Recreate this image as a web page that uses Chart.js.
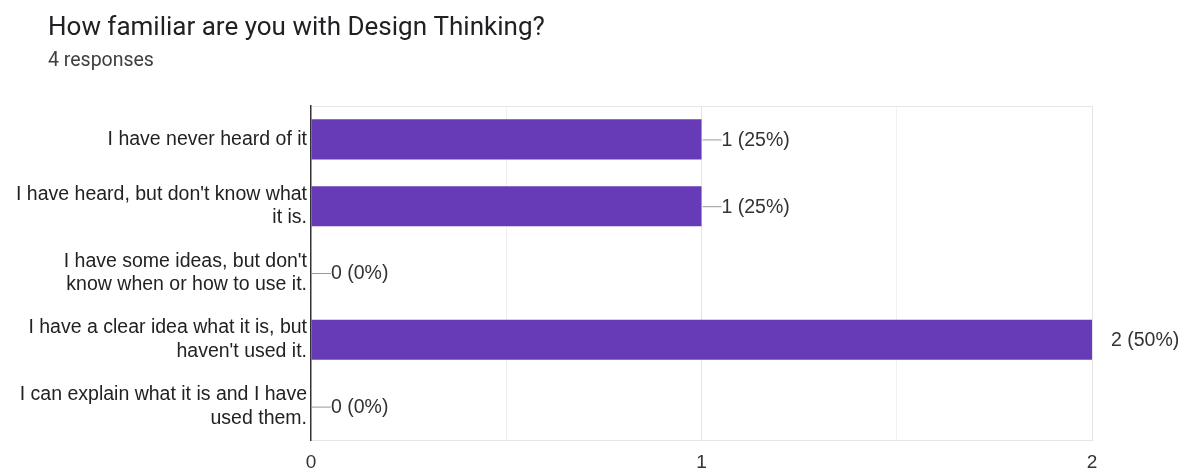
<!DOCTYPE html>
<html>
<head>
<meta charset="utf-8">
<script src="https://cdn.jsdelivr.net/npm/chart.js@4/dist/chart.umd.min.js"></script>
<style>
  html, body { margin: 0; padding: 0; background: #fff; }
  #wrap { width: 1184px; height: 470px; position: relative; }
</style>
</head>
<body>
<div id="wrap"><canvas id="chart"></canvas></div>
<script>
const questionTitle = 'How familiar are you with Design Thinking?'
const responsesText = '4 responses'

const answers = [
  'I have never heard of it',
  ['I have heard, but don\'t know what', 'it is.'],
  ['I have some ideas, but don\'t', 'know when or how to use it.'],
  ['I have a clear idea what it is, but', 'haven\'t used it.'],
  ['I can explain what it is and I have', 'used them.'],
]
const counts = [1, 1, 0, 2, 0]
const percents = [25, 25, 0, 50, 0]
const xTickLabels = [0, 1, 2]

const labelFont = '"Liberation Sans", Arial, sans-serif'

// heading drawn at the same left offset as the google forms card
const heading = {
  id: 'heading',
  beforeDraw(chart) {
    const ctx = chart.ctx
    ctx.save()
    ctx.textAlign = 'left'
    ctx.textBaseline = 'middle'
    ctx.fillStyle = '#202124'
    ctx.font = '26px Roboto, sans-serif'
    ctx.fillText(questionTitle, 48, 28)
    ctx.fillStyle = '#3c4043'
    ctx.font = '19.5px Roboto, sans-serif'
    ctx.fillText(responsesText, 48, 61)
    ctx.restore()
  },
}

// "n (p%)" labels with the little leader line
const valueLabels = {
  id: 'valueLabels',
  afterDatasetsDraw(chart) {
    const ctx = chart.ctx
    const meta = chart.getDatasetMeta(0)
    const max = Math.max(...counts)
    ctx.save()
    ctx.font = '19.5px ' + labelFont
    ctx.textBaseline = 'middle'
    ctx.textAlign = 'left'
    meta.data.forEach((bar, i) => {
      const text = counts[i] + ' (' + percents[i] + '%)'
      const x = bar.x
      const y = bar.y
      if (counts[i] === max) {
        ctx.fillStyle = '#333'
        ctx.fillText(text, x + 19, y + 1)
      } else {
        ctx.strokeStyle = '#999'
        ctx.lineWidth = 1
        ctx.beginPath()
        ctx.moveTo(x + 1, y + 0.5)
        ctx.lineTo(x + 20, y + 0.5)
        ctx.stroke()
        ctx.fillStyle = '#333'
        ctx.fillText(text, x + 20, y + 1)
      }
    })
    ctx.restore()
  },
}

const chart = new Chart(document.getElementById('chart'), {
  type: 'bar',
  data: {
    labels: answers,
    datasets: [
      {
        data: counts,
        backgroundColor: '#673ab7',
        borderWidth: 0,
        barPercentage: 0.6,
        categoryPercentage: 1,
      },
    ],
  },
  options: {
    indexAxis: 'y',
    responsive: true,
    maintainAspectRatio: false,
    animation: false,
    layout: {
      padding: { top: 106, right: 92, bottom: 0, left: 10 },
    },
    plugins: {
      legend: { display: false },
      tooltip: { enabled: false },
    },
    scales: {
      x: {
        min: 0,
        max: 2,
        afterFit: (scale) => {
          scale.height = 30
        },
        ticks: {
          stepSize: 0.5,
          padding: 11,
          color: '#333',
          font: { family: labelFont, size: 19 },
          callback: (v) => (xTickLabels.includes(v) ? v : ''),
        },
        grid: {
          drawTicks: false,
          color: (c) => {
            if (c.index === 0) return 'transparent'
            return Number.isInteger(c.tick.value) ? '#e3e3e3' : '#f0f0f0'
          },
        },
        border: { color: '#e6e6e6' },
      },
      y: {
        afterFit: (scale) => {
          scale.width = 301
        },
        ticks: {
          padding: 4,
          color: '#222',
          font: { family: labelFont, size: 19.5, lineHeight: 1.2 },
        },
        grid: {
          offset: true,
          drawTicks: false,
          color: (c) =>
            c.index === 0 || c.index === answers.length ? '#e6e6e6' : 'transparent',
        },
        border: { color: '#333', width: 1.5 },
      },
    },
  },
  plugins: [heading, valueLabels],
})
</script>
</body>
</html>
